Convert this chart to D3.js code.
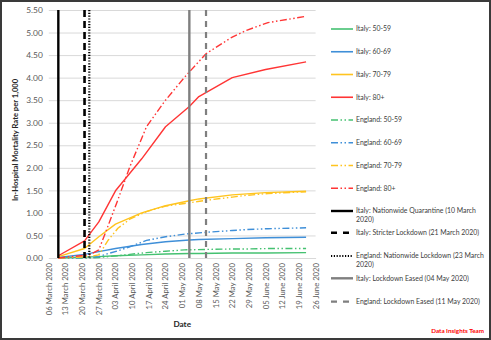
<!DOCTYPE html>
<html><head><meta charset="utf-8">
<script src="https://cdn.jsdelivr.net/npm/d3@7"></script>
<style>body{margin:0;background:#fff}svg{display:block}text{font-family:Lato,"Open Sans",sans-serif}</style>
</head><body><svg id="c" width="491" height="340"></svg>
<script>
const italyDates = ["2020-03-10","2020-03-21","2020-03-27","2020-04-03","2020-04-14","2020-04-24","2020-05-04","2020-05-08","2020-05-22","2020-06-05","2020-06-22"];
const italy5059 = [0.00,0.02,0.03,0.05,0.07,0.09,0.10,0.10,0.11,0.11,0.12];
const italy6069 = [0.01,0.08,0.14,0.21,0.30,0.36,0.40,0.41,0.43,0.45,0.46];
const italy7079 = [0.03,0.21,0.47,0.75,1.00,1.16,1.27,1.31,1.40,1.45,1.48];
const italy80 = [0.05,0.38,0.80,1.49,2.20,2.91,3.36,3.58,4.00,4.18,4.35];
const englandDates = ["2020-03-10","2020-03-23","2020-03-27","2020-03-31","2020-04-04","2020-04-09","2020-04-16","2020-04-24","2020-05-02","2020-05-11","2020-05-22","2020-05-28","2020-06-06","2020-06-22"];
const england5059 = [0.00,0.00,0.01,0.03,0.05,0.08,0.12,0.15,0.18,0.19,0.20,0.20,0.21,0.21];
const england6069 = [0.00,0.01,0.03,0.10,0.16,0.25,0.39,0.47,0.53,0.57,0.61,0.63,0.65,0.67];
const england7079 = [0.00,0.03,0.07,0.40,0.66,0.86,1.03,1.15,1.21,1.28,1.35,1.39,1.43,1.47];
const england80 = [0.00,0.07,0.18,0.73,1.29,2.02,2.91,3.50,4.01,4.53,4.90,5.05,5.22,5.36];
const seriesNames = ["Italy: 50-59","Italy: 60-69","Italy: 70-79","Italy: 80+","England: 50-59","England: 60-69","England: 70-79","England: 80+"];
const eventNames = [["Italy: Nationwide Quarantine (10 March","2020)"],["Italy: Stricter Lockdown (21 March 2020)"],["England: Nationwide Lockdown (23 March","2020)"],["Italy: Lockdown Eased (04 May 2020)"],["England: Lockdown Eased (11 May 2020)"]];
const eventDates = ["2020-03-10","2020-03-21","2020-03-23","2020-05-04","2020-05-11"];
const xTickStart = "2020-03-06", xTickEnd = "2020-06-26";
const yTicks = [0,0.5,1,1.5,2,2.5,3,3.5,4,4.5,5,5.5];

const parse = d3.timeParse("%Y-%m-%d");
const fmt = d3.timeFormat("%d %B %Y");
const svg = d3.select("#c");
const L = 48.8, R = 315.6, T = 10, B = 258;
const x = d3.scaleTime().domain([parse(xTickStart), parse(xTickEnd)]).range([L, R]);
const y = d3.scaleLinear().domain([0, 5.5]).range([B, T]);

const colors = ["#45c171","#3f8fd8","#ffc41f","#ff3535"];
const engDash = "7,2.5,1.5,2.5,1.5,2.5";
const series = [
  {d: italyDates, v: italy5059, c: colors[0], dash: null},
  {d: italyDates, v: italy6069, c: colors[1], dash: null},
  {d: italyDates, v: italy7079, c: colors[2], dash: null},
  {d: italyDates, v: italy80, c: colors[3], dash: null},
  {d: englandDates, v: england5059, c: colors[0], dash: engDash},
  {d: englandDates, v: england6069, c: colors[1], dash: engDash},
  {d: englandDates, v: england7079, c: colors[2], dash: engDash},
  {d: englandDates, v: england80, c: colors[3], dash: engDash}
];
const events = [
  {c: "#000", w: 2.4, dash: null},
  {c: "#000", w: 2.6, dash: "7,4"},
  {c: "#000", w: 2.2, dash: "1.2,1.6"},
  {c: "#7f7f7f", w: 2.4, dash: null},
  {c: "#7f7f7f", w: 2.2, dash: "6,5"}
];

// frame
svg.append("rect").attr("x",1).attr("y",1).attr("width",489).attr("height",338)
  .attr("fill","#fff").attr("stroke","#3a3a3a").attr("stroke-width",2);

// grid + y axis
const yAxis = d3.axisLeft(y).tickValues(yTicks).tickFormat(d3.format(".2f")).tickSize(-(R - L)).tickPadding(6);
const gy = svg.append("g").attr("transform",`translate(${L},0)`).call(yAxis);
gy.select(".domain").remove();
gy.selectAll(".tick line").attr("stroke","#d9d9d9").attr("stroke-width",1);
gy.selectAll(".tick text").attr("fill","#595959").attr("font-size","8.4px");

// x axis
const xTicks = d3.timeDay.range(parse(xTickStart), d3.timeDay.offset(parse(xTickEnd),1), 7);
const xAxis = d3.axisBottom(x).tickValues(xTicks).tickFormat(fmt).tickSize(0);
const gx = svg.append("g").attr("transform",`translate(0,${B})`).call(xAxis);
gx.select(".domain").attr("stroke","#d9d9d9");
gx.selectAll(".tick text").attr("fill","#595959").attr("font-size","7.7px")
  .attr("transform","rotate(-90)").attr("text-anchor","end").attr("dy","0.32em").attr("x",-5).attr("y",0);

// series
const line = d3.line().x(p => x(p[0])).y(p => y(p[1]));
series.forEach(s => {
  const pts = s.d.map((d,i) => [parse(d), s.v[i]]);
  svg.append("path").attr("d", line(pts)).attr("fill","none").attr("stroke", s.c)
    .attr("stroke-width",1.4).attr("stroke-dasharray", s.dash).attr("stroke-linejoin","round");
});

// event lines
events.forEach((e,i) => {
  const xx = x(parse(eventDates[i]));
  svg.append("line").attr("x1",xx).attr("x2",xx).attr("y1",T).attr("y2",B)
    .attr("stroke",e.c).attr("stroke-width",e.w).attr("stroke-dasharray",e.dash);
});

// axis titles
svg.append("text").attr("transform","translate(18,140) rotate(-90)").attr("text-anchor","middle")
  .attr("font-size","7.6px").attr("font-weight","bold").attr("fill","#262626")
  .text("In-Hospital Mortality Rate per 1,000");
svg.append("text").attr("x",(L+R)/2).attr("y",327).attr("text-anchor","middle")
  .attr("font-size","8.2px").attr("font-weight","bold").attr("fill","#262626").text("Date");

// legend
const lg = svg.append("g");
const lx1 = 331, lx2 = 353, tx = 356;
seriesNames.forEach((n,i) => {
  const yy = 29 + i * 22.75;
  lg.append("line").attr("x1",lx1).attr("x2",lx2).attr("y1",yy).attr("y2",yy)
    .attr("stroke",series[i].c).attr("stroke-width",1.6).attr("stroke-dasharray", series[i].dash);
  lg.append("text").attr("x",tx).attr("y",yy + 2.4).attr("font-size","6.9px").attr("fill","#404040").text(n);
});
const evY = [211, 232.7, 256, 278.3, 301.7];
eventNames.forEach((n,i) => {
  const yy = evY[i];
  const e = events[i];
  lg.append("line").attr("x1",lx1).attr("x2",lx2).attr("y1",yy).attr("y2",yy)
    .attr("stroke",e.c).attr("stroke-width",e.w)
    .attr("stroke-dasharray", i===1 ? "6,6" : i===4 ? "6,6" : e.dash);
  n.forEach((s,k) => lg.append("text").attr("x",tx).attr("y",yy + 2.4 + k * 9)
    .attr("font-size","6.9px").attr("fill","#404040").text(s));
});

svg.append("text").attr("x",484).attr("y",333).attr("text-anchor","end").attr("font-size","6.3px")
  .attr("font-weight","bold").attr("fill","#ff0000").text("Data Insights Team");
</script></body></html>
